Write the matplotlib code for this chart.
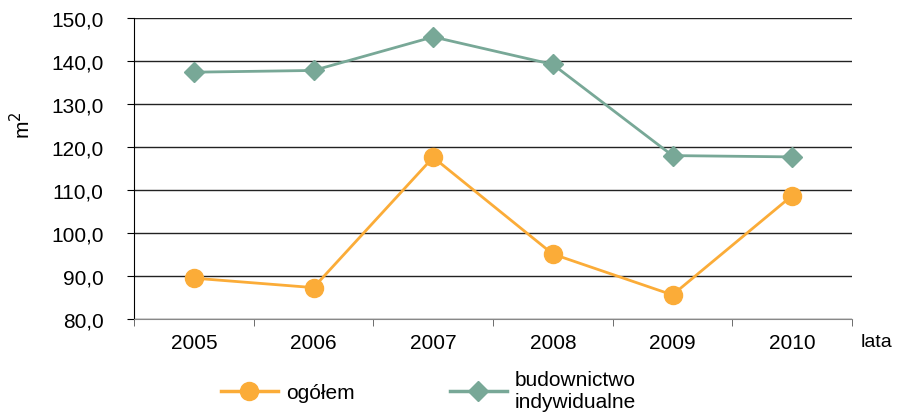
import matplotlib
matplotlib.use("Agg")
import matplotlib.pyplot as plt
from matplotlib.lines import Line2D
from matplotlib.ticker import FuncFormatter

years = ["2005", "2006", "2007", "2008", "2009", "2010"]
ogolem = [89.5, 87.3, 117.6, 95.1, 85.6, 108.7]
budownictwo = [137.4, 137.8, 145.6, 139.2, 118.0, 117.7]
yticks = [80, 90, 100, 110, 120, 130, 140, 150]

plt.rcParams['font.family'] = ['Liberation Sans', 'DejaVu Sans']

orange = "#FBAC38"
green = "#78A897"
fs = 15

fig = plt.figure(figsize=(8.97, 4.14), dpi=100)
ax = fig.add_axes([134/897, 1-320/414, (852-134)/897, (320-19)/414])

x = list(range(len(years)))
ax.plot(x, ogolem, color=orange, lw=2, marker='o', ms=13, mec=orange, mfc=orange, zorder=3)
ax.plot(x, budownictwo, color=green, lw=2, marker='D', ms=10.5, mec=green, mfc=green, zorder=3)

ax.set_xlim(-0.5, len(years)-0.5)
ax.set_ylim(80, 150)
ax.set_yticks(yticks)
ax.yaxis.set_major_formatter(FuncFormatter(lambda v, p: f"{v:.1f}".replace('.', ',')))
ax.set_xticks(x)
ax.set_xticklabels(years)
ax.set_xticks([i + 0.5 for i in range(-1, len(years))], minor=True)
ax.tick_params(axis='x', which='major', length=0, pad=10, labelsize=fs)
ax.tick_params(axis='x', which='minor', length=5, color='#555555')
ax.tick_params(axis='y', length=5, labelsize=fs, pad=17)

ax.grid(axis='y', color='#222222', lw=1)
ax.set_axisbelow(True)
for s in ['top', 'right']:
    ax.spines[s].set_visible(False)
ax.spines['left'].set_color('black')
ax.spines['bottom'].set_color('#888888')

fig.text(22/897, 1-125/414, "m$^2$", fontsize=fs, rotation=90, va='center', ha='center')
fig.text(861/897, 1-343/414, "lata", fontsize=14, va='center', ha='left')

handles = [
    Line2D([], [], color=orange, lw=2.5, marker='o', ms=13, mec=orange, mfc=orange),
    Line2D([], [], color=green, lw=2.5, marker='D', ms=10.5, mec=green, mfc=green),
]
fig.legend(handles, ["ogółem", "budownictwo\nindywidualne"], loc='center',
           bbox_to_anchor=(0.478, 1-392/414), ncol=2, frameon=False, fontsize=fs,
           handlelength=2.7, columnspacing=4.6, handletextpad=0.4)

fig.savefig("out.png", dpi=100)
